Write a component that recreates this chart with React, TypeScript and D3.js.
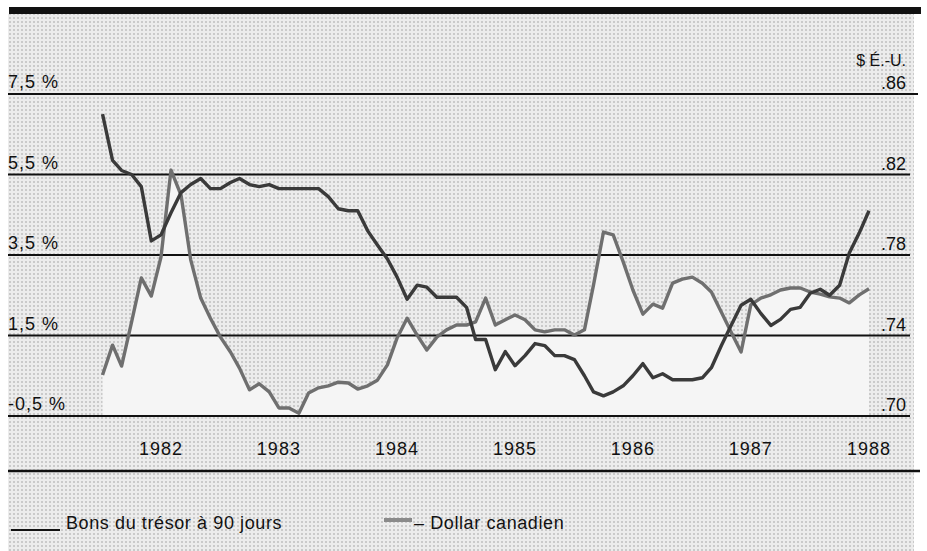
import React from "react";
import * as d3 from "d3";

// monthly series, first point = January 1982
const startYear = 1982;
const yearLabels = [1982, 1983, 1984, 1985, 1986, 1987, 1988];
const leftTicks = [-0.5, 1.5, 3.5, 5.5, 7.5];
const leftTickLabels = ["-0,5 %", "1,5 %", "3,5 %", "5,5 %", "7,5 %"];
const rightTicks = [0.7, 0.74, 0.78, 0.82, 0.86];
const rightTickLabels = [".70", ".74", ".78", ".82", ".86"];

// dark line, read on the right scale ($ É.-U.)
const dollarCanadien = [
  0.850, 0.827, 0.822, 0.820, 0.814, 0.787, 0.790, 0.801, 0.811, 0.815, 0.818, 0.813,
  0.813, 0.816, 0.818, 0.815, 0.814, 0.815, 0.813, 0.813, 0.813, 0.813, 0.813, 0.809,
  0.803, 0.802, 0.802, 0.792, 0.785, 0.778, 0.769, 0.758, 0.765, 0.764, 0.759, 0.759,
  0.759, 0.754, 0.738, 0.738, 0.723, 0.732, 0.725, 0.730, 0.736, 0.735, 0.730, 0.730,
  0.728, 0.720, 0.712, 0.710, 0.712, 0.715, 0.720, 0.726, 0.719, 0.721, 0.718, 0.718,
  0.718, 0.719, 0.724, 0.735, 0.745, 0.755, 0.758, 0.751, 0.745, 0.748, 0.753, 0.754,
  0.761, 0.763, 0.760, 0.765, 0.781, 0.791, 0.802,
];

// grey line with the light fill, read on the left scale (%)
const bonsTresor = [
  0.52, 1.26, 0.74, 1.84, 2.93, 2.48, 3.45, 5.61, 4.99, 3.38, 2.43, 1.93,
  1.46, 1.09, 0.69, 0.15, 0.30, 0.10, -0.30, -0.30, -0.43, 0.07, 0.20, 0.25,
  0.34, 0.32, 0.17, 0.25, 0.39, 0.77, 1.44, 1.93, 1.51, 1.14, 1.46, 1.64,
  1.76, 1.76, 1.84, 2.43, 1.76, 1.89, 2.01, 1.89, 1.64, 1.59, 1.64, 1.64,
  1.51, 1.64, 2.75, 4.07, 4.00, 3.33, 2.63, 2.03, 2.28, 2.18, 2.80, 2.90,
  2.95, 2.80, 2.58, 2.08, 1.59, 1.09, 2.26, 2.43, 2.51, 2.63, 2.68, 2.68,
  2.58, 2.53, 2.46, 2.43, 2.31, 2.51, 2.66,
];

const font = "'Liberation Sans Narrow', 'Liberation Sans', Arial, sans-serif";

export default function App() {
  const W = 927;
  const H = 551;
  const plotLeft = 8;
  const plotRight = 910;

  const x = d3
    .scaleTime()
    .domain([new Date(1982, 6, 1), new Date(1988, 6, 1)])
    .range([161, 869]);
  const yL = d3.scaleLinear().domain([-0.5, 7.5]).range([416, 94]);
  const yR = d3.scaleLinear().domain([0.7, 0.86]).range([416, 94]);

  const dateOf = (i: number) => new Date(startYear, i, 1);

  const darkLine = d3
    .line<number>()
    .x((_, i) => x(dateOf(i)))
    .y((d) => yR(d))(dollarCanadien);

  const greyLine = d3
    .line<number>()
    .x((_, i) => x(dateOf(i)))
    .y((d) => yL(d))(bonsTresor);

  const greyArea = d3
    .area<number>()
    .x((_, i) => x(dateOf(i)))
    .y0(yL(-0.5))
    .y1((d) => yL(d))(bonsTresor);

  return (
    <svg
      width={W}
      height={H}
      style={{ position: "absolute", left: 0, top: 0, background: "#fff" }}
    >
      <defs>
        <pattern id="halftone" width="4" height="4" patternUnits="userSpaceOnUse">
          <rect width="4" height="4" fill="#ececec" />
          <rect x="1" y="1" width="2" height="2" fill="#cacaca" />
        </pattern>
      </defs>

      {/* scanned paper */}
      <rect x={8} y={14} width={906} height={H - 14} fill="url(#halftone)" />
      <rect x={9} y={7} width={912} height={7} fill="#111" />

      {/* light fill under the grey series */}
      <path d={greyArea || ""} fill="#f5f5f5" />

      {/* grid */}
      {leftTicks.map((t) => (
        <line
          key={t}
          x1={plotLeft}
          x2={t === 7.5 ? 918 : plotRight}
          y1={yL(t)}
          y2={yL(t)}
          stroke="#111"
          strokeWidth={2}
        />
      ))}

      {/* left axis labels */}
      {leftTicks.map((t, i) => (
        <text
          key={t}
          x={8}
          y={yL(t) - 6}
          fontFamily={font}
          fontSize={18}
          letterSpacing={1}
          fill="#111"
        >
          {leftTickLabels[i]}
        </text>
      ))}

      {/* right axis labels */}
      <text x={906} y={66} textAnchor="end" fontFamily={font} fontSize={16} fill="#111">
        $ É.-U.
      </text>
      {rightTicks.map((t, i) => (
        <text
          key={t}
          x={906}
          y={yR(t) - 5}
          textAnchor="end"
          fontFamily={font}
          fontSize={18}
          fill="#111"
        >
          {rightTickLabels[i]}
        </text>
      ))}

      {/* series */}
      <path
        d={greyLine || ""}
        fill="none"
        stroke="#6f6f6f"
        strokeWidth={3.4}
        strokeLinejoin="round"
      />
      <path
        d={darkLine || ""}
        fill="none"
        stroke="#3a3a3a"
        strokeWidth={3.4}
        strokeLinejoin="round"
      />

      {/* x axis labels */}
      {yearLabels.map((yr) => (
        <text
          key={yr}
          x={x(new Date(yr, 6, 1))}
          y={455}
          textAnchor="middle"
          fontFamily={font}
          fontSize={18}
          letterSpacing={1}
          fill="#111"
        >
          {yr}
        </text>
      ))}

      <line x1={8} x2={920} y1={471} y2={471} stroke="#111" strokeWidth={2.5} />

      {/* legend */}
      <line x1={11} x2={60} y1={530} y2={530} stroke="#111" strokeWidth={2} />
      <text x={66} y={529} fontFamily={font} fontSize={18} letterSpacing={0.6} fill="#111">
        Bons du trésor à 90 jours
      </text>
      <line x1={384} x2={412} y1={520} y2={520} stroke="#8a8a8a" strokeWidth={4} />
      <text x={414} y={529} fontFamily={font} fontSize={18} letterSpacing={0.6} fill="#111">
        – Dollar canadien
      </text>
    </svg>
  );
}
